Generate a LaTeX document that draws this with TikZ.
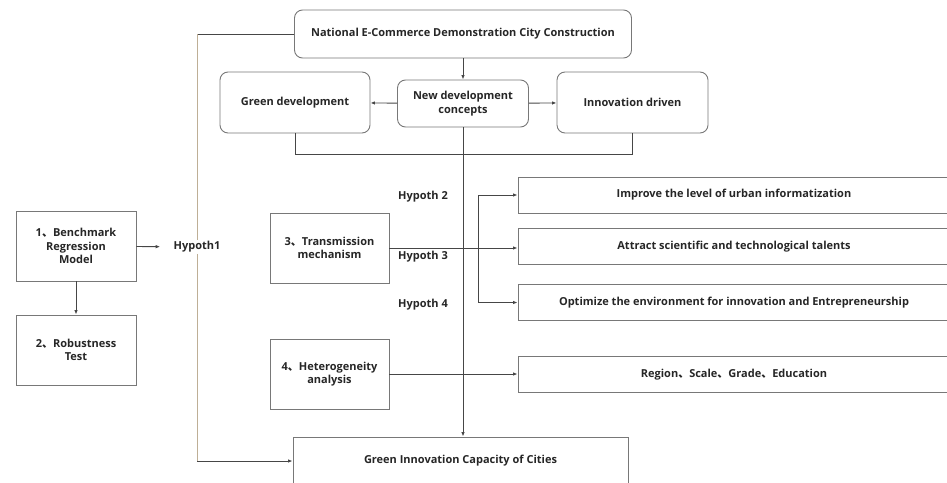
\documentclass[tikz,border=0pt]{standalone}
\usepackage{fontspec}
\setmainfont{Open Sans}
\newfontfamily\cjk{Noto Sans CJK SC}
\usetikzlibrary{arrows.meta}
\definecolor{linegray}{RGB}{70,70,70}
\definecolor{boxgray}{RGB}{120,120,120}
\definecolor{tanline}{RGB}{190,175,150}
\newcommand{\dun}{{\cjk 、}}

\begin{document}
\begin{tikzpicture}[x=1pt,y=-1pt,line width=0.9pt,
        font=\fontsize{11}{13.5}\selectfont\bfseries,text=black!85,
        box/.style={draw=boxgray,align=center,inner sep=0pt},
        rbox/.style={box,rounded corners=8pt},
        >={Latex[length=4.5pt,width=3.5pt]}]
    \useasboundingbox(0,0)rectangle(947,482);
    \clip(0,0)rectangle(947,482);

    % top row
    \node[rbox,minimum width=337pt,minimum height=48pt](1)at(463,34){National E-Commerce Demonstration City Construction};
    \node[rbox,minimum width=150pt,minimum height=61pt](2)at(295,102.5){Green development};
    \node[rbox,minimum width=131pt,minimum height=47pt](3)at(463,103.5){New development\\concepts};
    \node[rbox,minimum width=151pt,minimum height=61pt](4)at(632.5,102.5){Innovation driven};
    \draw[linegray,->](1)--(3);
    \draw[linegray,->](3)--(2);
    \draw[linegray,->](3)--(4);
    \draw[linegray](2.south)--++(0,21)-|(4.south);

    % left column
    \node[box,minimum width=120pt,minimum height=70pt](5)at(76,246){1\dun Benchmark\\Regression\\Model};
    \node[box,minimum width=120pt,minimum height=70pt](6)at(76,350){2\dun Robustness\\Test};
    \node[fill=white,inner sep=1pt](7)at(197,247){Hypoth1};
    \draw[linegray,->](5)--(6);

    % middle column
    \node[box,minimum width=119pt,minimum height=70pt](8)at(329.5,248){3\dun Transmission\\mechanism};
    \node[box,minimum width=119pt,minimum height=70pt](9)at(329.5,374){4\dun Heterogeneity\\analysis};
    \node(10)at(423,197){Hypoth 2};
    \node(11)at(423,257){Hypoth 3};
    \node(12)at(423,305){Hypoth 4};

    % right column
    \node[box,minimum width=432pt,minimum height=36pt](13)at(734,195){Improve the level of urban informatization};
    \node[box,minimum width=432pt,minimum height=36pt](14)at(734,246.5){Attract scientific and technological talents};
    \node[box,minimum width=432pt,minimum height=36pt](15)at(734,302.5){Optimize the environment for innovation and Entrepreneurship};
    \node[box,minimum width=432pt,minimum height=36pt](16)at(734,374.5){Region\dun Scale\dun Grade\dun Education};

    % bottom
    \node[box,minimum width=335pt,minimum height=48pt](17)at(460.5,461){Green Innovation Capacity of Cities};

    \draw[linegray,->](3)--(3|-17.north);
    \draw[linegray,->,shorten >=12pt](5)--(7);
    \coordinate(a)at(197,34);
    \coordinate(c)at(197,461);
    \draw[linegray](1.west)--(a);
    \draw[tanline](a)--(7.north);
    \draw[tanline](7.south)--(c);
    \draw[linegray,->](c)--(17.west);

    \coordinate(b)at(478,248);
    \draw[linegray,->](8.east)--(8.east-|14.west);
    \draw[linegray,->](b)|-(13.west);
    \draw[linegray,->](b)|-(15.west);
    \draw[linegray,->](9)--(9-|16.west);
\end{tikzpicture}
\end{document}
